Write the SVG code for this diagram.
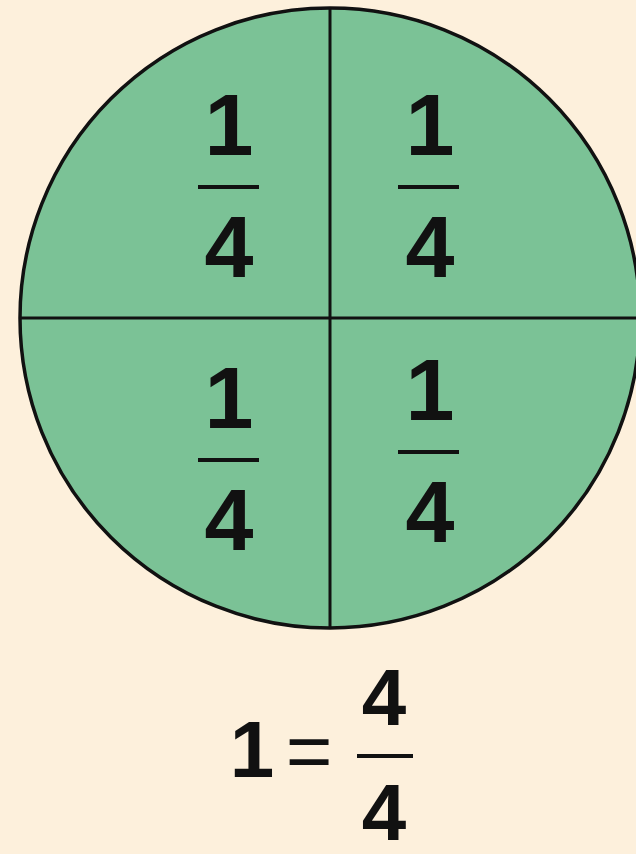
<svg xmlns="http://www.w3.org/2000/svg" width="636" height="854" viewBox="0 0 636 854">
<style>
.num{font-family:"Liberation Sans",Arial,sans-serif;font-weight:bold;font-size:88px;fill:#111;text-anchor:middle}
.eq{font-family:"Liberation Sans",Arial,sans-serif;font-weight:bold;font-size:80px;fill:#111;text-anchor:middle}
.bar{stroke:#111;stroke-width:4}
.edge{stroke:#111;stroke-width:3;fill:none}
</style>
<rect width="636" height="854" fill="#FDF0DC"/>
<g id="circle">
<circle cx="330" cy="318" r="310" fill="#7BC296" stroke="#111" stroke-width="3.5"/>
</g>
<g id="dividers">
<line class="edge" x1="330" y1="8" x2="330" y2="628"/>
<line class="edge" x1="20" y1="318" x2="640" y2="318"/>
</g>
<g id="q1">
<text class="num" x="229" y="155">1</text>
<line class="bar" x1="198" y1="187" x2="259" y2="187"/>
<text class="num" x="229" y="277">4</text>
</g>
<g id="q2">
<text class="num" x="430" y="155">1</text>
<line class="bar" x1="398" y1="187" x2="459" y2="187"/>
<text class="num" x="430" y="277">4</text>
</g>
<g id="q3">
<text class="num" x="229" y="428">1</text>
<line class="bar" x1="198" y1="460" x2="259" y2="460"/>
<text class="num" x="229" y="550">4</text>
</g>
<g id="q4">
<text class="num" x="430" y="420">1</text>
<line class="bar" x1="398" y1="452" x2="459" y2="452"/>
<text class="num" x="430" y="542">4</text>
</g>
<g id="equation">
<text class="eq" x="252" y="777">1</text>
<text class="eq" x="309" y="778" style="font-weight:normal">=</text>
<text class="eq" x="384" y="725">4</text>
<line class="bar" x1="357" y1="756" x2="413" y2="756"/>
<text class="eq" x="384" y="840">4</text>
</g>
</svg>
